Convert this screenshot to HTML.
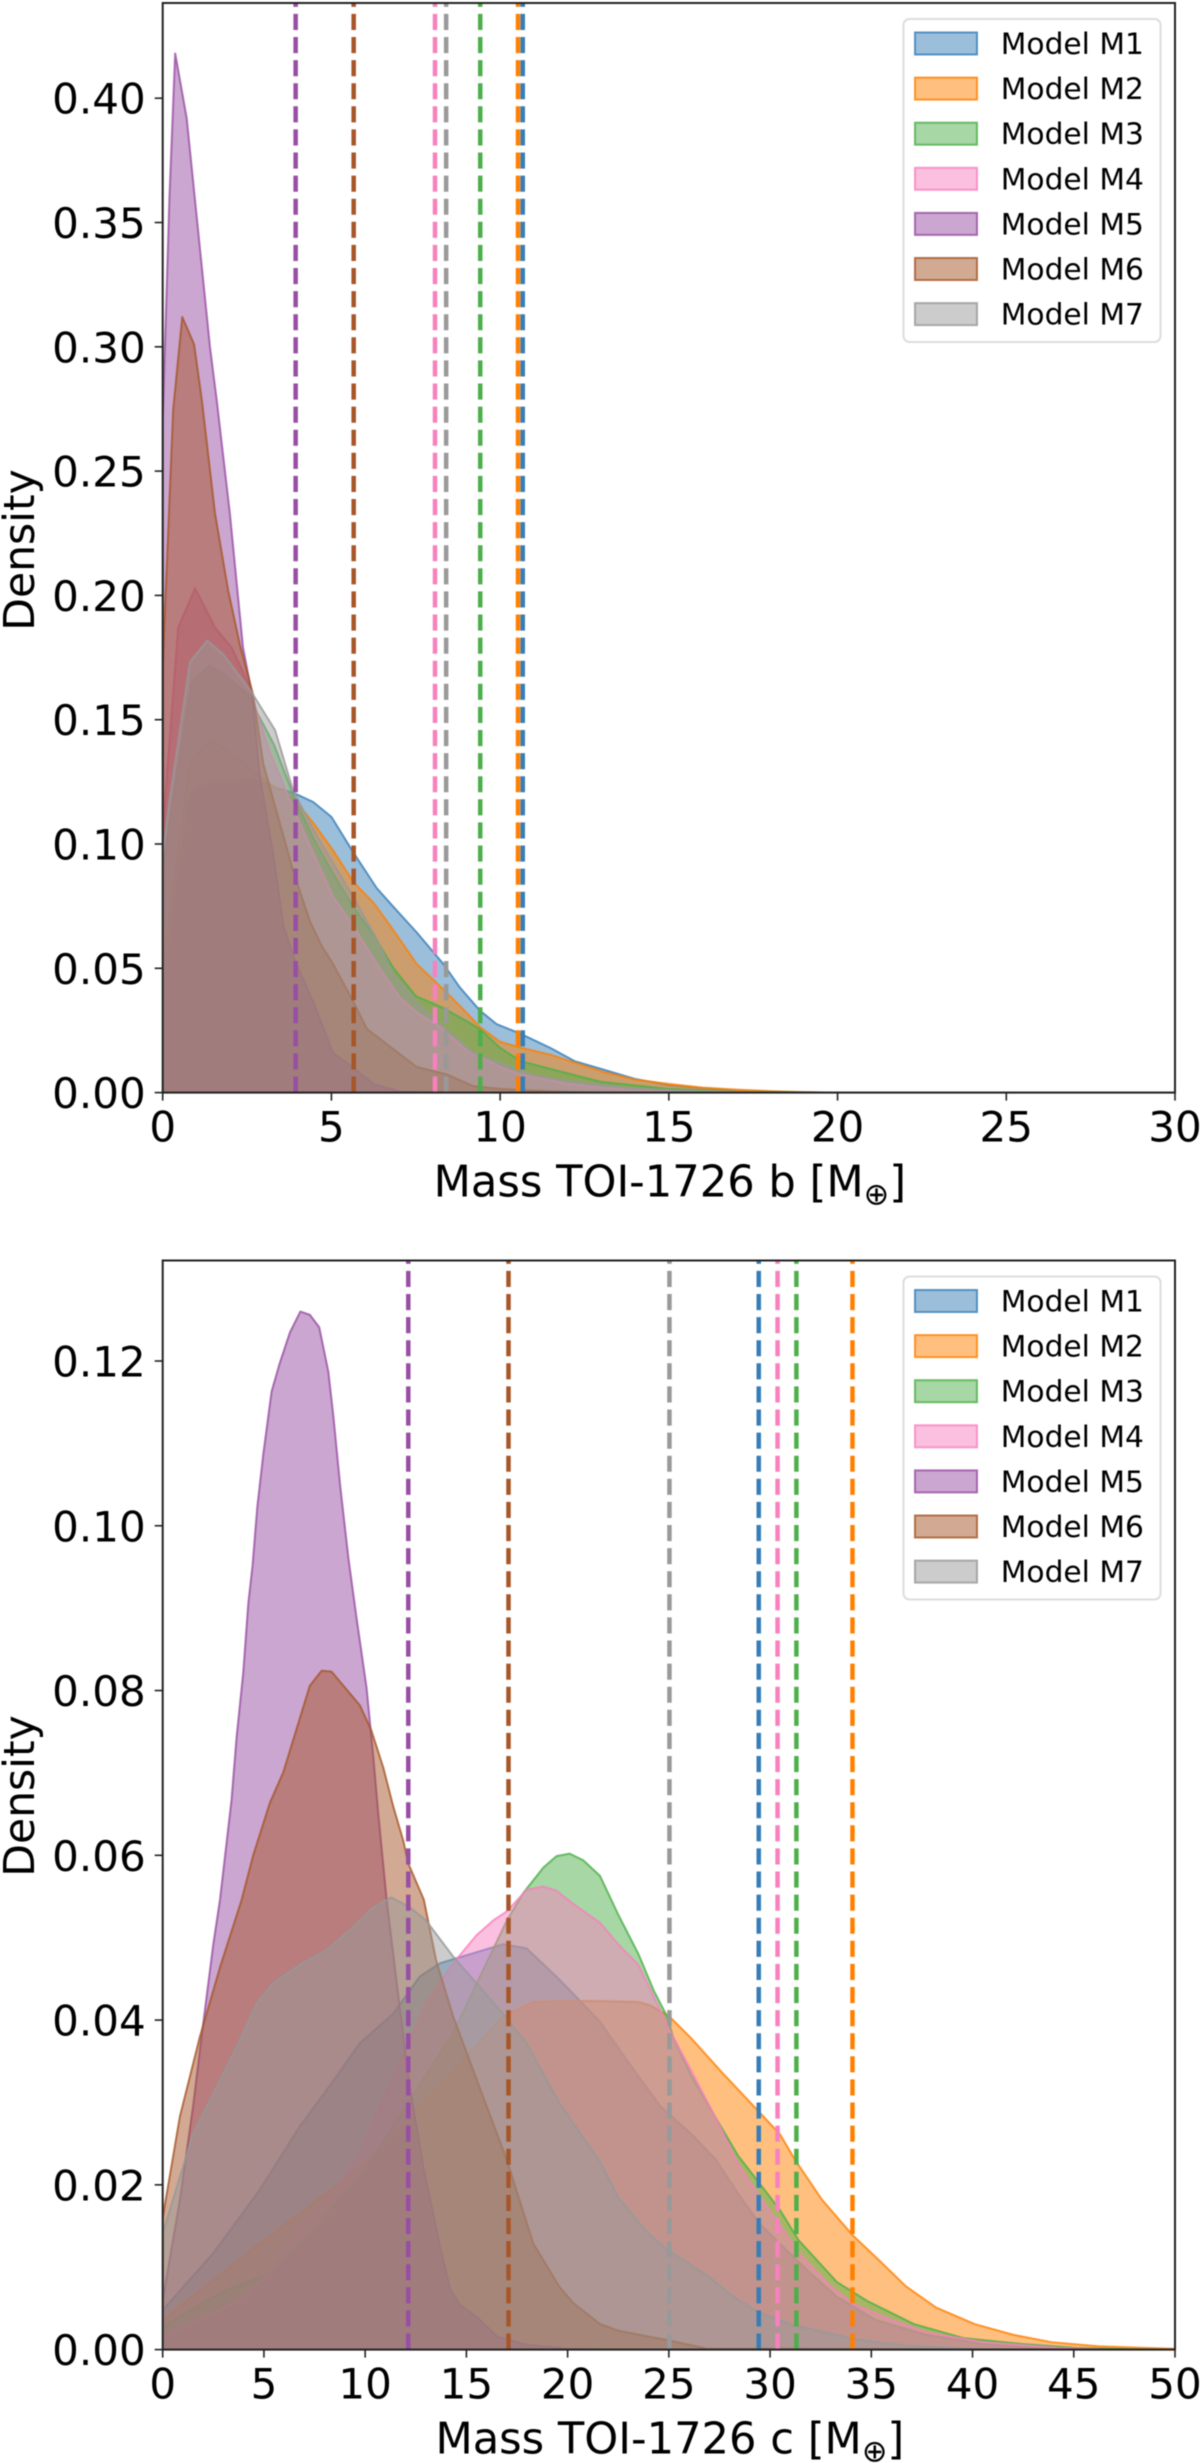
<!DOCTYPE html>
<html lang="en">
<head>
<meta charset="utf-8">
<title>TOI-1726 mass posterior densities</title>
<style>
html,body{margin:0;padding:0;background:#fff;}
svg{display:block;width:1200px;height:2463px;font-family:"DejaVu Sans",sans-serif;filter:blur(0.45px);}
</style>
</head>
<body>
<svg id="figure" xmlns="http://www.w3.org/2000/svg" width="1200" height="2463" viewBox="0 0 1200 2463"></svg>
<script>
const modelNames = ['Model M1','Model M2','Model M3','Model M4','Model M5','Model M6','Model M7'];
const modelColors = ['#377eb8','#ff7f00','#4daf4a','#f781bf','#984ea3','#a65628','#999999'];

/* Top panel: planet b */
const bXTicks = [0,5,10,15,20,25,30];
const bYTicks = [0,0.05,0.10,0.15,0.20,0.25,0.30,0.35,0.40];
const bMeans = [10.67,10.53,9.41,8.07,3.94,5.66,8.40];
const bM1x = [0,0.27,0.81,1.4,2.6,3.28,3.92,4.46,5,5.65,6.34,6.84,7.53,8.32,8.8,9.4,9.9,10.6,11.5,12.2,13,14,15,16,17,18,19,20,30];
const bM1y = [0.04,0.07,0.12,0.125,0.1262,0.123,0.1203,0.1169,0.1109,0.0966,0.0823,0.0747,0.0644,0.0517,0.0424,0.033,0.0275,0.0237,0.0179,0.0127,0.0095,0.0055,0.003,0.0018,0.0009,0.0004,0.0001,0,0];
const bM2x = [0,0.27,0.8,1.4,2.1,2.8,3.92,4.46,5.05,5.65,6.25,6.84,7.53,8.32,9,9.4,10,10.6,11.5,13,14,15,16,17,18,19,20,30];
const bM2y = [0.05,0.0787,0.1325,0.1418,0.136,0.1278,0.1177,0.1085,0.0974,0.0847,0.0763,0.0652,0.0517,0.0415,0.0322,0.0264,0.0204,0.0181,0.0152,0.0085,0.0052,0.0035,0.002,0.0012,0.0006,0.0002,0,0];
const bM3x = [0,0.27,0.86,1.4,1.85,2.49,3.3,3.92,4.46,5.05,5.65,6.25,6.84,7.5,8.32,9,9.4,10,10.6,11.5,13,15,17,20,30];
const bM3y = [0.09,0.115,0.1653,0.1716,0.168,0.1607,0.14,0.118,0.1024,0.0881,0.0746,0.0634,0.05,0.0388,0.034,0.0288,0.0256,0.018,0.0127,0.0095,0.0043,0.0015,0.0003,0,0];
const bM4x = [0,0.07,0.46,0.96,1.55,2.04,2.49,3.18,3.77,4.37,5.05,5.65,6.34,7.04,7.53,8.22,9,10,10.6,12,13,14,16,18,30];
const bM4y = [0.105,0.1176,0.187,0.2028,0.187,0.179,0.166,0.1365,0.1176,0.099,0.0787,0.067,0.0517,0.038,0.0322,0.0264,0.017,0.0103,0.0073,0.0035,0.002,0.0012,0.0004,0,0];
const bM5x = [0,0.2,0.37,0.71,1.4,1.6,1.99,2.38,2.64,2.88,3.28,3.58,3.92,4.46,5.05,5.55,6.25,7,9,30];
const bM5y = [0.27,0.36,0.418,0.392,0.30,0.2786,0.233,0.179,0.1607,0.127,0.0955,0.067,0.053,0.0365,0.016,0.011,0.0035,0.0005,0,0];
const bM6x = [0,0.04,0.12,0.31,0.58,0.93,1.16,1.55,1.94,2.29,2.68,2.98,3.28,3.87,4.37,4.71,5.05,5.65,6.05,6.64,7.53,8.42,9.2,10,11,12,13,30];
const bM6y = [0.17,0.185,0.2114,0.2746,0.312,0.301,0.2786,0.233,0.202,0.18,0.16,0.1324,0.1176,0.089,0.0686,0.059,0.0517,0.0365,0.0256,0.0195,0.0103,0.0073,0.0026,0.0015,0.0008,0.0003,0,0];
const bM7x = [0,0.22,0.81,1.32,1.79,2.59,3.33,3.86,4.46,5.05,5.65,6.34,6.84,7.53,8.32,9.2,10,11,12,14,16,18,30];
const bM7y = [0.095,0.119,0.1733,0.1818,0.1764,0.162,0.1458,0.1217,0.1059,0.0923,0.0787,0.0618,0.0474,0.0364,0.0264,0.016,0.0119,0.0068,0.0045,0.0015,0.0004,0,0];

/* Bottom panel: planet c */
const cXTicks = [0,5,10,15,20,25,30,35,40,45,50];
const cYTicks = [0,0.02,0.04,0.06,0.08,0.10,0.12];
const cMeans = [29.44,34.07,31.3,30.37,12.13,17.08,25.03];
const cM1x = [0,2.5,4.8,6.78,8.1,9.74,11.4,12.7,13.7,14.5,16.8,17.97,19.6,21.6,22.7,23.9,24.6,26.1,27.3,28.4,29.44,30.5,31.8,33.3,35.2,37.7,40.5,43,46,48,50];
const cM1y = [0.0048,0.0117,0.0194,0.0271,0.0315,0.0372,0.0408,0.0453,0.0469,0.0475,0.0492,0.0487,0.0449,0.0398,0.0359,0.0318,0.0295,0.0262,0.0231,0.019,0.0154,0.0128,0.0097,0.0064,0.0036,0.0018,0.0007,0.0003,0.0001,0,0];
const cM2x = [0,4.8,8.1,10.56,12.7,14.7,16.8,18.3,19.6,21.6,23.5,24.06,25,26.1,27.6,29.44,30.5,31.24,32.56,34.07,35.4,36.7,38.2,40.1,42,43.9,46.2,50];
const cM2y = [0.0036,0.0129,0.019,0.0238,0.0295,0.0348,0.0404,0.0422,0.0423,0.0423,0.0422,0.0418,0.0405,0.0378,0.0337,0.0289,0.0261,0.023,0.0182,0.0139,0.0108,0.0077,0.0051,0.0031,0.0018,0.0009,0.0004,0.0001];
const cM3x = [0,3.1,4.97,6.95,9.74,12.2,14.35,15.5,17,17.8,18.8,19.45,20.1,20.77,21.6,22.5,23.5,24.25,24.9,25.2,26.1,27.3,28.4,29.44,30.5,31.4,33.3,34.8,37.1,39.55,42.4,45.2,48,50];
const cM3y = [0.0028,0.0072,0.0089,0.0133,0.021,0.0303,0.0384,0.0444,0.0521,0.0554,0.0585,0.0599,0.0602,0.0594,0.0575,0.0528,0.048,0.0436,0.0405,0.038,0.0333,0.0282,0.0236,0.0203,0.0169,0.0133,0.0082,0.0059,0.0031,0.0014,0.0007,0.0002,0.00005,0];
const cM4x = [0,3.82,5.1,7.1,8.8,9.74,11.7,13,14.35,15.5,16.33,17,17.97,18.8,19.45,20.28,21.6,22.5,23.5,24.4,25.2,26.1,27.3,28.4,29.44,30.4,31.4,32.9,34.07,35.8,37.7,40.5,44.3,47,50];
const cM4y = [0.0016,0.006,0.0089,0.0157,0.0202,0.0238,0.0348,0.042,0.0469,0.0503,0.0521,0.0532,0.0558,0.0562,0.0557,0.0541,0.0518,0.0492,0.0467,0.0421,0.038,0.0339,0.0282,0.0226,0.0187,0.0154,0.0118,0.0079,0.0056,0.0038,0.0021,0.0009,0.0002,0,0];
const cM5x = [0,0.85,1.5,1.92,2.5,2.83,3.4,3.65,3.98,4.23,4.44,4.67,4.97,5.38,5.79,6.29,6.8,7.27,7.73,8.18,8.43,8.76,9.17,9.58,10.07,10.4,10.65,11.06,11.7,12.2,12.87,13.7,14.2,14.7,15.5,16.5,18,20,22,50];
const cM5y = [0.006,0.0182,0.0295,0.038,0.0492,0.0546,0.0667,0.0743,0.0822,0.0906,0.0952,0.1022,0.1087,0.1163,0.1198,0.1235,0.126,0.1256,0.1241,0.1187,0.1133,0.105,0.0961,0.0887,0.0803,0.072,0.065,0.0546,0.0417,0.032,0.0222,0.0125,0.0073,0.0054,0.004,0.0016,0.0006,0.0001,0,0];
const cM6x = [0,0.85,1.84,2.83,3.9,4.47,5.3,5.96,6.37,7.27,7.85,8.34,8.92,9.74,10.3,10.9,11.39,11.88,12.13,12.9,13.5,14.35,15.7,17,18.3,19.6,20.3,21.6,22.5,25,26.9,50];
const cM6y = [0.016,0.0283,0.038,0.0464,0.0546,0.06,0.0664,0.0701,0.0734,0.0806,0.0824,0.0823,0.0806,0.0782,0.0752,0.0706,0.0659,0.0618,0.059,0.0546,0.0473,0.0404,0.0315,0.023,0.0129,0.0076,0.0056,0.0031,0.0023,0.0011,0.0001,0];
const cM7x = [0,1.51,2.83,3.82,4.64,5.46,6.95,8.1,9.41,10.4,11.3,12.2,13,14.35,16.8,17.97,19.6,21.6,22.5,23.9,25,26.9,28.2,29.4,31,32.9,34.1,36.7,40,43,50];
const cM7y = [0.0141,0.0263,0.0327,0.0376,0.042,0.0445,0.047,0.0485,0.0513,0.0537,0.0549,0.0537,0.0521,0.0477,0.0408,0.0372,0.0299,0.0228,0.0185,0.0143,0.012,0.009,0.0064,0.0046,0.0031,0.002,0.0013,0.0005,0.0001,0,0];

const bSeriesX = [bM1x,bM2x,bM3x,bM4x,bM5x,bM6x,bM7x];
const bSeriesY = [bM1y,bM2y,bM3y,bM4y,bM5y,bM6y,bM7y];
const cSeriesX = [cM1x,cM2x,cM3x,cM4x,cM5x,cM6x,cM7x];
const cSeriesY = [cM1y,cM2y,cM3y,cM4y,cM5y,cM6y,cM7y];

const SVG_NS = 'http://www.w3.org/2000/svg';
const figure = document.getElementById('figure');

function make(tag, parent, attrs) {
  const el = document.createElementNS(SVG_NS, tag);
  for (const k in attrs) el.setAttribute(k, attrs[k]);
  parent.appendChild(el);
  return el;
}

function drawPanel(p) {
  const scaleX = v => p.left + (v / p.xMax) * (p.right - p.left);
  const scaleY = v => p.bottom - (v / p.yMax) * (p.bottom - p.top);

  const group = make('g', figure, {});
  
  

  const defs = make('defs', group, {});
  const clip = make('clipPath', defs, {id: p.key + '-clip'});
  make('rect', clip, {x: p.left, y: p.top, width: p.right - p.left, height: p.bottom - p.top});

  const plot = make('g', group, {'clip-path': 'url(#' + p.key + '-clip)'});
  
  

  p.seriesX.forEach((xs, i) => {
    const ys = p.seriesY[i];
    let d = 'M' + scaleX(xs[0]).toFixed(2) + ' ' + scaleY(0).toFixed(2);
    xs.forEach((x, j) => { d += 'L' + scaleX(x).toFixed(2) + ' ' + scaleY(ys[j]).toFixed(2); });
    d += 'L' + scaleX(xs[xs.length - 1]).toFixed(2) + ' ' + scaleY(0).toFixed(2) + 'Z';
    const area = make('path', plot, {d: d, fill: modelColors[i], 'fill-opacity': 0.5, stroke: modelColors[i], 'stroke-opacity': 0.8, 'stroke-width': 2, 'stroke-linejoin': 'round'});
    
    
  });

  p.means.forEach((m, i) => {
    const line = make('line', plot, {x1: scaleX(m), x2: scaleX(m), y1: p.bottom, y2: p.top, stroke: modelColors[i], 'stroke-width': 4.5, 'stroke-dasharray': '16.1 7'});
    
    
  });

  p.xTicks.forEach(t => {
    const tick = make('line', group, {x1: scaleX(t), x2: scaleX(t), y1: p.bottom, y2: p.bottom + 8, stroke: '#222', 'stroke-width': 1.6});
    
    
    const label = make('text', group, {x: scaleX(t), y: p.bottom + 48.8, 'font-size': 42, 'text-anchor': 'middle', fill: '#000'});
    label.textContent = String(t);
    
    
  });

  p.yTicks.forEach(t => {
    const tick = make('line', group, {x1: p.left - 8, x2: p.left, y1: scaleY(t), y2: scaleY(t), stroke: '#222', 'stroke-width': 1.6});
    
    
    const label = make('text', group, {x: p.left - 17, y: scaleY(t) + 15.5, 'font-size': 42, 'text-anchor': 'end', fill: '#000'});
    label.textContent = t.toFixed(2);
    
    
  });

  const spine = make('rect', group, {x: p.left, y: p.top, width: p.right - p.left, height: p.bottom - p.top, fill: 'none', stroke: '#222', 'stroke-width': 2});
  
  

  const xTitle = make('text', group, {x: (p.left + p.right) / 2 + 1, y: p.bottom + 104, 'font-size': 43.2, 'text-anchor': 'middle', fill: '#000'});
  
  
  make('tspan', xTitle, {}).textContent = p.xLabel + ' [M';
  make('tspan', xTitle, {dy: 8, 'font-size': 30.5}).textContent = '\u2295';
  make('tspan', xTitle, {dy: -8}).textContent = ']';

  const yTitle = make('text', group, {transform: 'translate(34 ' + p.yTitleY + ') rotate(-90)', 'font-size': 42.5, 'text-anchor': 'middle', fill: '#000'});
  yTitle.textContent = 'Density';
  
  

  const legend = make('g', group, {});
  
  
  const legendTop = p.top + 16;
  const box = make('rect', legend, {x: 903.5, y: legendTop, width: 257, height: 323, rx: 6, ry: 6, fill: '#fff', 'fill-opacity': 0.8, stroke: '#ddd', 'stroke-width': 2});
  
  
  modelNames.forEach((name, i) => {
    const rowY = legendTop + 13.5 + i * 45.1;
    const patch = make('rect', legend, {x: 915, y: rowY, width: 62, height: 22, fill: modelColors[i], 'fill-opacity': 0.5, stroke: modelColors[i], 'stroke-opacity': 0.8, 'stroke-width': 2});
    
    
    const text = make('text', legend, {x: 1000.8, y: rowY + 21.5, 'font-size': 29.7, fill: '#000'});
    text.textContent = name;
    
    
  });
}

drawPanel({key:'planet-b', left:162.7, right:1175, top:3, bottom:1092.6, xMax:30, yMax:0.4383, xTicks:bXTicks, yTicks:bYTicks, means:bMeans, seriesX:bSeriesX, seriesY:bSeriesY, xLabel:'Mass TOI-1726 b', yTitleY:550});
drawPanel({key:'planet-c', left:162.7, right:1175, top:1260.5, bottom:2349.6, xMax:50, yMax:0.1322, xTicks:cXTicks, yTicks:cYTicks, means:cMeans, seriesX:cSeriesX, seriesY:cSeriesY, xLabel:'Mass TOI-1726 c', yTitleY:1796});
</script>
</body>
</html>
